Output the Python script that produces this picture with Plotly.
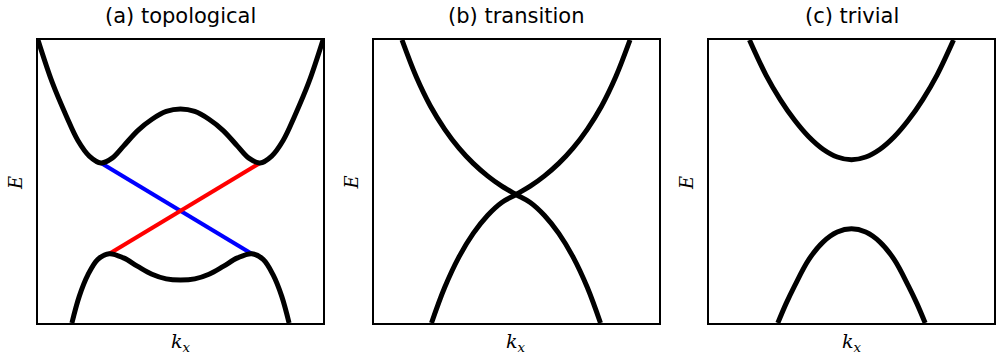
import plotly.graph_objects as go

# ---- (a) topological: bulk bands and the two edge-state branches ----
k_a_cond = [-1.0, -0.9, -0.8, -0.72, -0.64, -0.558, -0.48, -0.4, -0.3, -0.2, -0.1, 0.0,
            0.1, 0.2, 0.3, 0.4, 0.48, 0.558, 0.64, 0.72, 0.8, 0.9, 1.0]
E_a_cond = [1.0, 0.70, 0.46, 0.29, 0.18, 0.131, 0.165, 0.25, 0.36, 0.44, 0.495, 0.512,
            0.495, 0.44, 0.36, 0.25, 0.165, 0.131, 0.18, 0.29, 0.46, 0.70, 1.0]
k_a_val = [-0.762, -0.71, -0.65, -0.58, -0.5, -0.4, -0.3, -0.2, -0.1, 0.0,
           0.1, 0.2, 0.3, 0.4, 0.5, 0.58, 0.65, 0.71, 0.762]
E_a_val = [-1.0, -0.81, -0.66, -0.55, -0.51, -0.54, -0.60, -0.655, -0.688, -0.696,
           -0.688, -0.655, -0.60, -0.54, -0.51, -0.55, -0.66, -0.81, -1.0]
k_a_edge_blue = [-0.558, 0.50]
E_a_edge_blue = [0.131, -0.51]
k_a_edge_red = [-0.50, 0.558]
E_a_edge_red = [-0.51, 0.131]

# ---- (b) transition: two branches crossing where the gap closes ----
k_b_branch1 = [-0.8, -0.7, -0.6, -0.5, -0.4, -0.3, -0.2, -0.1, 0.0,
               0.1, 0.2, 0.3, 0.4, 0.5, 0.593]
E_b_branch1 = [1.0, 0.740, 0.532, 0.369, 0.236, 0.128, 0.040, -0.033, -0.092,
               -0.148, -0.240, -0.367, -0.533, -0.748, -1.0]
k_b_branch2 = [0.8, 0.7, 0.6, 0.5, 0.4, 0.3, 0.2, 0.1, 0.0,
               -0.1, -0.2, -0.3, -0.4, -0.5, -0.593]
E_b_branch2 = [1.0, 0.740, 0.532, 0.369, 0.236, 0.128, 0.040, -0.033, -0.092,
               -0.148, -0.240, -0.367, -0.533, -0.748, -1.0]

# ---- (c) trivial: gapped bands ----
k_c_cond = [-0.716, -0.6, -0.5, -0.4, -0.3, -0.2, -0.1, 0.0,
            0.1, 0.2, 0.3, 0.4, 0.5, 0.6, 0.716]
E_c_cond = [1.0, 0.752, 0.579, 0.434, 0.316, 0.228, 0.173, 0.154,
            0.173, 0.228, 0.316, 0.434, 0.579, 0.752, 1.0]
k_c_val = [-0.517, -0.46, -0.4, -0.3, -0.2, -0.1, 0.0,
           0.1, 0.2, 0.3, 0.4, 0.46, 0.517]
E_c_val = [-1.0, -0.865, -0.739, -0.552, -0.428, -0.357, -0.334,
           -0.357, -0.428, -0.552, -0.739, -0.865, -1.0]

titles = ["(a) topological", "(b) transition", "(c) trivial"]

W, H = 998, 356
panel_x = [(38, 323), (373.5, 658.5), (709, 994)]
panel_top, panel_bottom = 40, 323

BLACK = "#000000"
fig = go.Figure()


def band(k, E, ax, color=BLACK, width=5):
    fig.add_trace(go.Scatter(
        x=k, y=E, mode="lines", xaxis=f"x{ax}", yaxis=f"y{ax}",
        line=dict(color=color, width=width, shape="spline", smoothing=1.0),
        hoverinfo="skip", showlegend=False))


band(k_a_edge_blue, E_a_edge_blue, "", color="#0000ff", width=4)
band(k_a_edge_red, E_a_edge_red, "", color="#ff0000", width=4)
band(k_a_cond, E_a_cond, "")
band(k_a_val, E_a_val, "")
band(k_b_branch1, E_b_branch1, "2")
band(k_b_branch2, E_b_branch2, "2")
band(k_c_cond, E_c_cond, "3")
band(k_c_val, E_c_val, "3")

axis_common = dict(range=[-1, 1], showgrid=False, zeroline=False, showticklabels=False,
                   ticks="", showline=True, mirror=True, linecolor=BLACK, linewidth=2,
                   fixedrange=True)
y_dom = [1 - panel_bottom / H, 1 - panel_top / H]

layout_axes = {}
annotations = []
for i, ((x0, x1), title) in enumerate(zip(panel_x, titles)):
    suffix = "" if i == 0 else str(i + 1)
    layout_axes[f"xaxis{suffix}"] = dict(axis_common, domain=[x0 / W, x1 / W],
                                         anchor=f"y{suffix}")
    layout_axes[f"yaxis{suffix}"] = dict(axis_common, domain=y_dom, anchor=f"x{suffix}")
    cx = (x0 + x1) / 2
    annotations.append(dict(text=title, x=cx / W, y=1 - 16 / H, xref="paper", yref="paper",
                            showarrow=False, xanchor="center", yanchor="middle",
                            font=dict(family="DejaVu Sans", size=21, color=BLACK)))
    annotations.append(dict(text="<i>k</i><sub><i>x</i></sub>", x=cx / W, y=1 - 342 / H,
                            xref="paper", yref="paper", showarrow=False,
                            xanchor="center", yanchor="middle",
                            font=dict(family="DejaVu Serif", size=19, color=BLACK)))
    annotations.append(dict(text="<i>E</i>", x=(x0 - 23) / W, y=1 - 183 / H,
                            xref="paper", yref="paper", showarrow=False, textangle=-90,
                            xanchor="center", yanchor="middle",
                            font=dict(family="DejaVu Serif", size=18, color=BLACK)))

fig.update_layout(width=W, height=H, margin=dict(l=0, r=0, t=0, b=0),
                  paper_bgcolor="white", plot_bgcolor="white",
                  annotations=annotations, **layout_axes)

fig.write_html("out.html")
